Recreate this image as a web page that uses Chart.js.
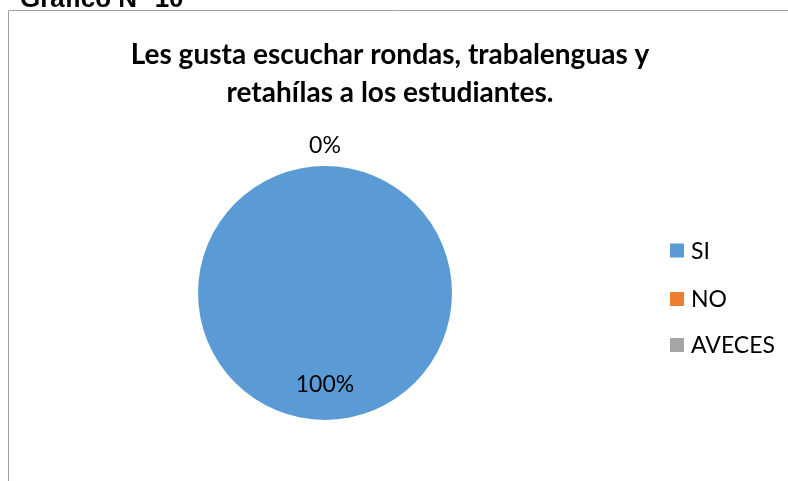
<!DOCTYPE html>
<html>
<head>
<meta charset="utf-8">
<script src="https://cdn.jsdelivr.net/npm/chart.js@4"></script>
<style>
html,body{margin:0;padding:0;background:#fff;}
#wrap{width:788px;height:481px;position:relative;}
</style>
</head>
<body>
<div id="wrap"><canvas id="c" width="788" height="481"></canvas></div>
<script>
const categories = ["SI", "NO", "AVECES"];
const values = [100, 0, 0];
const percentLabels = ["100%", "0%", "0%"];
const colors = ["#5B9BD5", "#ED7D31", "#A5A5A5"];
const titleLines = ["Les gusta escuchar rondas, trabalenguas y", "retahílas a los estudiantes."];
const captionText = "Gráfico N° 10";

const FONT = "Lato, 'Open Sans', sans-serif";

const decor = {
  id: 'decor',
  beforeDraw(chart) {
    const ctx = chart.ctx;
    ctx.save();
    ctx.fillStyle = '#fff';
    ctx.fillRect(0, 0, chart.width, chart.height);
    // frame
    ctx.strokeStyle = '#A0A0A0';
    ctx.lineWidth = 1;
    ctx.beginPath();
    ctx.moveTo(8.5, 481);
    ctx.lineTo(8.5, 10.5);
    ctx.lineTo(788, 10.5);
    ctx.stroke();
    // caption (cut at top)
    ctx.fillStyle = '#000';
    ctx.font = "bold 26px 'Liberation Sans', Arial, sans-serif";
    ctx.textAlign = 'left';
    ctx.textBaseline = 'alphabetic';
    ctx.fillText(captionText, 20, 7);
    // title
    ctx.font = "bold 28px " + FONT;
    ctx.textAlign = 'center';
    ctx.textBaseline = 'middle';
    ctx.fillText(titleLines[0], 390, 55);
    ctx.fillText(titleLines[1], 390, 93);
    ctx.restore();
  },
  afterDatasetsDraw(chart) {
    const ctx = chart.ctx;
    const meta = chart.getDatasetMeta(0);
    ctx.save();
    ctx.fillStyle = '#000';
    ctx.font = "23px " + FONT;
    ctx.textAlign = 'center';
    ctx.textBaseline = 'middle';
    const drawn = [];
    meta.data.forEach((arc, i) => {
      const p = arc.getProps(['x','y','startAngle','endAngle','outerRadius'], true);
      const mid = (p.startAngle + p.endAngle) / 2;
      const r = values[i] > 0 ? p.outerRadius * 0.72 : p.outerRadius + 20;
      const x = p.x + Math.cos(mid) * r;
      const y = p.y + Math.sin(mid) * r;
      const key = Math.round(x) + ',' + Math.round(y);
      if (drawn.includes(key)) return;
      drawn.push(key);
      ctx.fillText(percentLabels[i], x, y);
    });
    // legend
    const lx = 670, ys = [250.5, 299, 345];
    ctx.textAlign = 'left';
    categories.forEach((c, i) => {
      ctx.fillStyle = colors[i];
      ctx.fillRect(lx, ys[i] - 7, 14, 14);
      ctx.fillStyle = '#000';
      ctx.fillText(c, lx + 21, ys[i] + 1);
    });
    ctx.restore();
  }
};

new Chart(document.getElementById('c'), {
  type: 'pie',
  data: {
    labels: categories,
    datasets: [{
      data: values,
      backgroundColor: colors,
      borderWidth: 0
    }]
  },
  options: {
    responsive: false,
    animation: false,
    layout: { padding: { left: 198, right: 336, top: 166, bottom: 61 } },
    plugins: { legend: { display: false }, tooltip: { enabled: false }, title: { display: false } }
  },
  plugins: [decor]
});
</script>
</body>
</html>
